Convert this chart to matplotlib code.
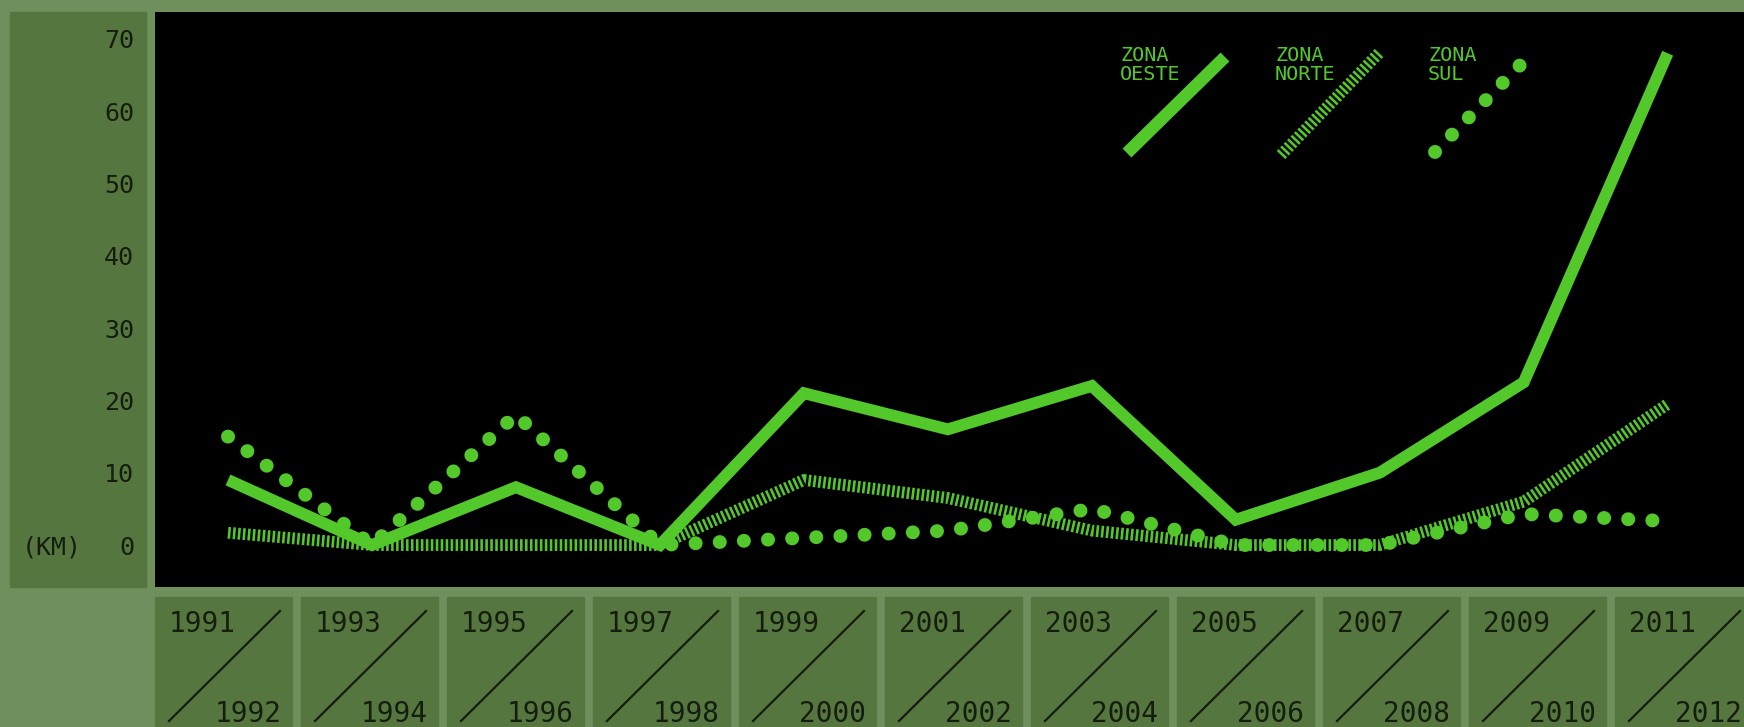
import matplotlib.pyplot as plt
from matplotlib.patches import Rectangle
from matplotlib.lines import Line2D
from matplotlib.transforms import blended_transform_factory

# data (km per biennium)
period_start = ['1991', '1993', '1995', '1997', '1999', '2001', '2003', '2005', '2007', '2009', '2011']
period_end = ['1992', '1994', '1996', '1998', '2000', '2002', '2004', '2006', '2008', '2010', '2012']
zona_oeste = [9, 0, 8, 0, 21, 16, 22, 3.5, 10, 22.5, 68]
zona_norte = [1.7, 0, 0, 0, 9, 6.5, 2, 0, 0, 6, 19.5]
zona_sul = [15, 0, 18, 0, 1, 2, 5, 0, 0, 4.3, 3.3]
y_ticks = [0, 10, 20, 30, 40, 50, 60, 70]

BG = '#6f8f5d'
PANEL = '#56763f'
GREEN = '#53c82b'
INK = '#141d0e'
W, H = 1744, 727
plt.rcParams['font.family'] = ['DejaVu Sans Mono', 'DejaVu Sans']

HATCH = dict(lw=8.5, dashes=(0.22, 0.2), dash_capstyle='butt')
DOTS = dict(lw=10, dashes=(0.01, 1.73), dash_capstyle='round')


def fx(px):
    return px / W


def fy(py):
    return 1 - py / H


fig = plt.figure(figsize=(W / 100, H / 100), dpi=100, facecolor=BG)

# y label panel
fig.add_artist(Rectangle((fx(10), fy(587)), fx(146) - fx(10), fy(12) - fy(587),
                         transform=fig.transFigure, color=PANEL, zorder=0))

ax = fig.add_axes([fx(155), fy(587), fx(W) - fx(155), fy(12) - fy(587)])
ax.set_facecolor('black')
for s in ax.spines.values():
    s.set_visible(False)

x = range(len(period_start))
ax.plot(x, zona_norte, color=GREEN, solid_joinstyle='miter', zorder=2, **HATCH)
ax.plot(x, zona_sul, color=GREEN, zorder=3, **DOTS)
ax.plot(x, zona_oeste, color=GREEN, lw=8.5, solid_capstyle='butt',
        solid_joinstyle='miter', zorder=4)

ax.set_xlim(-0.507, 10.53)
ax.set_ylim(-5.8, 73.7)
ax.set_xticks([])
ax.set_yticks(y_ticks)
ax.set_yticklabels([str(v) for v in y_ticks])
ax.tick_params(axis='y', length=0, pad=15, labelsize=18, labelcolor=INK)

trans = blended_transform_factory(fig.transFigure, ax.transData)
fig.text(fx(22), 0, '(KM)', transform=trans, fontsize=18, color=INK,
         va='center_baseline', ha='left')


# legend, drawn inside the plot area
def ax_pt(px, py):
    return (px - 155) / (W - 155), (587 - py) / (587 - 12)


legend_items = [
    ('ZONA', 'OESTE', 1120, (1127, 153), (1225, 57), dict(lw=9, solid_capstyle='butt')),
    ('ZONA', 'NORTE', 1275, (1281, 155), (1379, 53), HATCH),
    ('ZONA', 'SUL', 1428, (1435, 152), (1528, 57), DOTS),
]
for w1, w2, tx, p0, p1, style in legend_items:
    a0, a1 = ax_pt(*p0), ax_pt(*p1)
    ax.add_line(Line2D([a0[0], a1[0]], [a0[1], a1[1]], transform=ax.transAxes,
                       color=GREEN, zorder=5, **style))
    fig.text(fx(tx), fy(61), w1, fontsize=14.5, color=GREEN, ha='left', va='baseline')
    fig.text(fx(tx), fy(80), w2, fontsize=14.5, color=GREEN, ha='left', va='baseline')

# period boxes under the plot
for i, (a, b) in enumerate(zip(period_start, period_end)):
    left = 155 + 146 * i
    fig.add_artist(Rectangle((fx(left), fy(740)), fx(137), fy(597) - fy(740),
                             transform=fig.transFigure, color=PANEL, zorder=0))
    fig.add_artist(Line2D([fx(left + 14), fx(left + 125)], [fy(721), fy(611)],
                          transform=fig.transFigure, color=INK, lw=1.6))
    fig.text(fx(left + 14), fy(632), a, fontsize=20, color=INK, ha='left', va='baseline')
    fig.text(fx(left + 127), fy(722), b, fontsize=20, color=INK, ha='right', va='baseline')

fig.savefig('out.png', dpi=100, facecolor=BG)
